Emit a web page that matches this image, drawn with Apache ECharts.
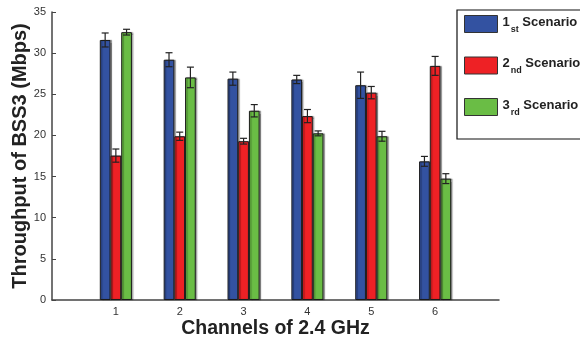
<!DOCTYPE html>
<html>
<head>
<meta charset="utf-8">
<script src="https://cdn.jsdelivr.net/npm/echarts@6/dist/echarts.min.js"></script>
<style>html,body{margin:0;padding:0;background:#fff;}#c{width:580px;height:338px;}</style>
</head>
<body>
<div id="c"></div>
<script>
var channels = ['1', '2', '3', '4', '5', '6'];
var scenario1 = [31.6, 29.2, 26.9, 26.8, 26.1, 16.85];
var scenario2 = [17.55, 19.9, 19.3, 22.35, 25.2, 28.45];
var scenario3 = [32.55, 27.05, 23.0, 20.25, 19.9, 14.75];
var err1 = [0.85, 0.85, 0.8, 0.5, 1.6, 0.6];
var err2 = [0.8, 0.5, 0.35, 0.8, 0.75, 1.15];
var err3 = [0.35, 1.25, 0.75, 0.3, 0.6, 0.6];
var seriesNames = ['1st', '2nd', '3rd'];
var yTicks = [0, 5, 10, 15, 20, 25, 30, 35];

var colors = ['#3352A1', '#EE2125', '#6ABD45'];
var values = [scenario1, scenario2, scenario3];
var errs = [err1, err2, err3];
var barW = 10.7;
var FONT = 'Liberation Sans, Arial, Helvetica, sans-serif';

// pad categories so that channels sit at positions 1..6 on a 0..7 axis
var cats = [''].concat(channels).concat(['']);

var chart = echarts.init(document.getElementById('c'));

var series = [];
var legendData = [];
values.forEach(function (vals, si) {
  var name = seriesNames[si];
  legendData.push(name);
  series.push({
    name: name,
    type: 'bar',
    data: [null].concat(vals).concat([null]),
    barWidth: barW,
    barGap: '0%',
    itemStyle: {
      color: colors[si],
      borderColor: '#1a1a1a',
      borderWidth: 1,
      shadowColor: 'rgba(0,0,0,0.35)',
      shadowOffsetX: 1.5,
      shadowOffsetY: 0,
      shadowBlur: 1
    },
    emphasis: { disabled: true },
    z: 2
  });
});

values.forEach(function (vals, si) {
  var data = vals.map(function (v, i) {
    return [i + 1, v - errs[si][i], v + errs[si][i]];
  });
  series.push({
    type: 'custom',
    name: seriesNames[si] + '_err',
    z: 5,
    silent: true,
    data: data,
    renderItem: function (params, api) {
      var x = api.value(0);
      var lo = api.coord([x, api.value(1)]);
      var hi = api.coord([x, api.value(2)]);
      var off = (si - 1) * barW;
      var cx = lo[0] + off;
      var hw = 3.5;
      var st = { stroke: '#222', lineWidth: 1.2 };
      return {
        type: 'group',
        children: [
          { type: 'line', shape: { x1: cx, y1: lo[1], x2: cx, y2: hi[1] }, style: st },
          { type: 'line', shape: { x1: cx - hw, y1: lo[1], x2: cx + hw, y2: lo[1] }, style: st },
          { type: 'line', shape: { x1: cx - hw, y1: hi[1], x2: cx + hw, y2: hi[1] }, style: st }
        ]
      };
    }
  });
});

var option = {
  animation: false,
  backgroundColor: '#fff',
  grid: { left: 52, right: 81, top: 12, bottom: 38, containLabel: false, outerBoundsMode: 'none' },
  legend: {
    orient: 'vertical',
    left: 457,
    top: 10,
    data: legendData,
    itemWidth: 33,
    itemHeight: 17,
    itemGap: 21.5,
    padding: [4, 40, 22, 7],
    borderColor: '#111',
    borderWidth: 1.2,
    backgroundColor: '#fff',
    selectedMode: false,
    icon: 'rect',
    itemStyle: { borderColor: '#333', borderWidth: 1 },
    formatter: function (name) {
      return '{n|' + name.charAt(0) + '}{s|' + name.slice(1) + '}{t| Scenario}';
    },
    textStyle: {
      fontFamily: FONT,
      rich: {
        n: { fontSize: 13, fontWeight: 'bold', color: '#222', fontFamily: FONT, lineHeight: 17, verticalAlign: 'top' },
        s: { fontSize: 9, fontWeight: 'bold', color: '#222', fontFamily: FONT, lineHeight: 17, padding: [11, 0, 0, 1] },
        t: { fontSize: 13, fontWeight: 'bold', color: '#222', fontFamily: FONT, lineHeight: 17, verticalAlign: 'top' }
      }
    }
  },
  xAxis: {
    type: 'category',
    data: cats,
    boundaryGap: false,
    name: 'Channels of 2.4 GHz',
    nameLocation: 'middle',
    nameGap: 19,
    nameMoveOverlap: false,
    nameTextStyle: { fontFamily: FONT, fontSize: 19.5, fontWeight: 'bold', color: '#222' },
    axisLine: { lineStyle: { color: '#444', width: 1.5 } },
    axisTick: { show: false },
    axisLabel: { fontFamily: FONT, fontSize: 11, color: '#333', margin: 6, interval: 0 },
    splitLine: { show: false }
  },
  yAxis: {
    type: 'value',
    min: 0,
    max: 35,
    interval: 5,
    name: 'Throughput of BSS3 (Mbps)',
    nameLocation: 'middle',
    nameGap: 22,
    nameMoveOverlap: false,
    nameTextStyle: { fontFamily: FONT, fontSize: 20, fontWeight: 'bold', color: '#222' },
    axisLine: { show: true, lineStyle: { color: '#444', width: 1.5 } },
    axisTick: { show: true, inside: true, length: 4, lineStyle: { color: '#444' } },
    axisLabel: {
      fontFamily: FONT, fontSize: 11, color: '#333', margin: 6,
      formatter: function (v) { return yTicks.indexOf(v) >= 0 ? String(v) : ''; }
    },
    splitLine: { show: false }
  },
  series: series
};

chart.setOption(option);
</script>
</body>
</html>
